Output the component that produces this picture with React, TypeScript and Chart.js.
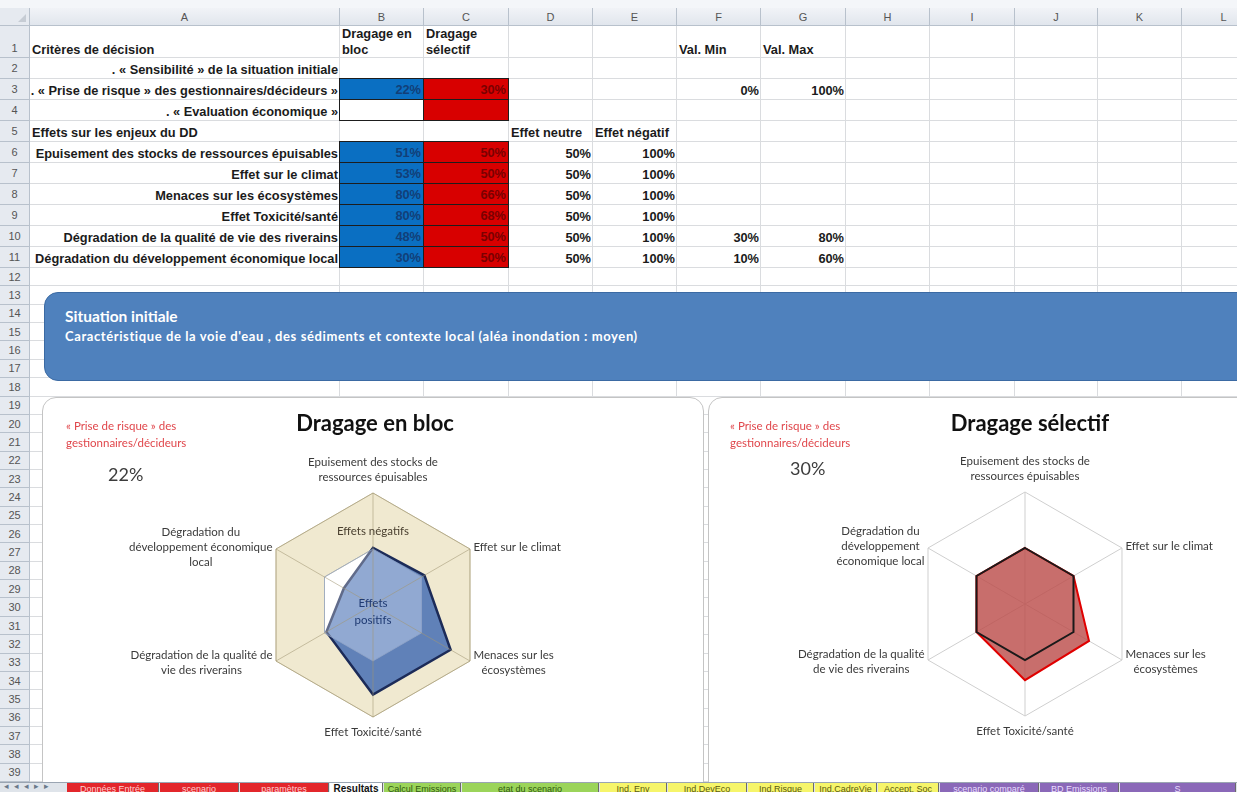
import React, { useEffect, useRef } from "react";
import { Chart, registerables } from "chart.js";

Chart.register(...registerables);

// ---------------- data ----------------
const criteria = [
  "Epuisement des stocks de ressources épuisables",
  "Effet sur le climat",
  "Menaces sur les écosystèmes",
  "Effet Toxicité/santé",
  "Dégradation de la qualité de vie des riverains",
  "Dégradation du développement économique local",
];
const labelsBloc = [
  ["Epuisement des stocks de", "ressources épuisables"],
  ["Effet sur le climat"],
  ["Menaces sur les", "écosystèmes"],
  ["Effet Toxicité/santé"],
  ["Dégradation de la qualité de", "vie des riverains"],
  ["Dégradation du", "développement économique", "local"],
];
const labelsSelectif = [
  ["Epuisement des stocks de", "ressources épuisables"],
  ["Effet sur le climat"],
  ["Menaces sur les", "écosystèmes"],
  ["Effet Toxicité/santé"],
  ["Dégradation de la qualité", "de vie des riverains"],
  ["Dégradation du", "développement", "économique local"],
];
const dragageBloc = [51, 53, 80, 80, 48, 30];
const dragageSelectif = [50, 50, 66, 68, 50, 50];
const effetNeutre = [50, 50, 50, 50, 50, 50];
const effetNegatif = [100, 100, 100, 100, 100, 100];
const valMin: (number | null)[] = [null, null, null, null, 30, 10];
const valMax: (number | null)[] = [null, null, null, null, 80, 60];
const priseRisqueBloc = 22;
const priseRisqueSelectif = 30;
const echelleMin = 0;
const echelleMax = 100;
const columnLetters = ["A", "B", "C", "D", "E", "F", "G", "H", "I", "J", "K", "L"];
const sheetTabs = [
  { name: "Données Entrée", kind: "red" },
  { name: "scenario", kind: "red" },
  { name: "paramètres", kind: "red" },
  { name: "Resultats", kind: "active" },
  { name: "Calcul Emissions", kind: "green" },
  { name: "etat du scenario", kind: "green" },
  { name: "Ind. Env", kind: "yellow" },
  { name: "Ind.DevEco", kind: "yellow" },
  { name: "Ind.Risque", kind: "yellow" },
  { name: "Ind.CadreVie", kind: "yellow" },
  { name: "Accept. Soc", kind: "yellow" },
  { name: "scenario comparé", kind: "purple" },
  { name: "BD Emissions", kind: "purple" },
  { name: "S", kind: "purple" },
];

// ---------------- layout helpers ----------------
const COLS = [30, 340, 424, 509, 593, 677, 761, 846, 930, 1015, 1098, 1182, 1266];
const HEADER_TOP = 8;
const HEADER_BOTTOM = 26;
function rowTop(r: number): number {
  if (r === 1) return HEADER_BOTTOM;
  if (r <= 11) return 58 + (r - 2) * 21;
  return 268 + (r - 12) * 18.36;
}
const pct = (v: number) => `${v}%`;

const LABEL_FONT = "11.5px Lato, 'Open Sans', sans-serif";

// point labels drawn from the radial scale positions
const pointLabelPlugin = {
  id: "xlPointLabels",
  afterDraw(chart: any) {
    const scale = chart.scales.r;
    const ctx = chart.ctx;
    const labels = chart.data.labels as string[][];
    ctx.save();
    ctx.font = LABEL_FONT;
    ctx.fillStyle = "#3a3a3a";
    ctx.textAlign = "center";
    ctx.textBaseline = "middle";
    const lh = 15;
    labels.forEach((lab, i) => {
      const lines = Array.isArray(lab) ? lab : [lab];
      const deg = Math.round((scale.getIndexAngle(i) * 180) / Math.PI) % 360;
      const vertical = deg === 0 || deg === 180;
      const p = scale.getPointPosition(i, scale.drawingArea + (vertical ? 8 : 4));
      const blockW = Math.max(...lines.map((l: string) => ctx.measureText(l).width));
      const blockH = lines.length * lh;
      let left: number;
      if (vertical) left = p.x - blockW / 2;
      else if (deg < 180) left = p.x;
      else left = p.x - blockW;
      let top: number;
      if (deg === 0) top = p.y - blockH;
      else if (deg === 180) top = p.y;
      else top = p.y - blockH / 2;
      lines.forEach((l: string, k: number) => ctx.fillText(l, left + blockW / 2, top + lh * (k + 0.5)));
    });
    ctx.restore();
  },
};

// zone captions ("Effets négatifs" / "Effets positifs")
const zoneLabelPlugin = {
  id: "xlZoneLabels",
  afterDraw(chart: any, _args: any, opts: any) {
    if (!opts || !opts.items) return;
    const scale = chart.scales.r;
    const ctx = chart.ctx;
    ctx.save();
    ctx.font = LABEL_FONT;
    ctx.textAlign = "center";
    ctx.textBaseline = "middle";
    opts.items.forEach((it: any) => {
      const p = scale.getPointPositionForValue(it.index, it.value);
      ctx.fillStyle = it.color;
      it.lines.forEach((l: string, k: number) => {
        ctx.fillText(l, p.x, p.y + (k - (it.lines.length - 1) / 2) * 17);
      });
    });
    ctx.restore();
  },
};

function baseScale(extra: any) {
  return {
    r: {
      min: echelleMin,
      max: echelleMax,
      ticks: { display: false, stepSize: echelleMax - echelleMin },
      pointLabels: { display: false },
      ...extra,
    },
  };
}

export default function App() {
  const leftRef = useRef<HTMLCanvasElement>(null);
  const rightRef = useRef<HTMLCanvasElement>(null);

  useEffect(() => {
    const c1 = new Chart(leftRef.current as HTMLCanvasElement, {
      type: "radar",
      data: {
        labels: labelsBloc as any,
        datasets: [
          {
            label: "voile neutre",
            data: effetNeutre,
            fill: true,
            backgroundColor: "rgba(255,255,255,0.3)",
            borderColor: "rgba(150,170,205,0.7)",
            borderWidth: 1,
            pointRadius: 0,
            order: 1,
          },
          {
            label: "Dragage en bloc",
            data: dragageBloc,
            fill: true,
            backgroundColor: "rgba(70,110,180,0.85)",
            borderColor: "#1c2b58",
            borderWidth: 2.5,
            pointRadius: 0,
            order: 2,
          },
          {
            label: "Effet neutre",
            data: effetNeutre,
            fill: true,
            backgroundColor: "#ffffff",
            borderColor: "#b4ab8c",
            borderWidth: 1,
            pointRadius: 0,
            order: 3,
          },
          {
            label: "Effet négatif",
            data: effetNegatif,
            fill: true,
            backgroundColor: "#f0e9d0",
            borderColor: "#d8d0b4",
            borderWidth: 1,
            pointRadius: 0,
            order: 4,
          },
        ],
      },
      options: {
        responsive: false,
        animation: false,
        layout: { padding: { left: 219, top: 96, right: 218, bottom: 65 } },
        elements: { line: { tension: 0 } },
        plugins: {
          legend: { display: false },
          tooltip: { enabled: false },
          xlZoneLabels: {
            items: [
              { index: 0, value: 66, lines: ["Effets négatifs"], color: "#4a4030" },
              { index: 3, value: 6, lines: ["Effets", "positifs"], color: "#1f3a72" },
            ],
          },
        } as any,
        scales: baseScale({
          grid: { color: "rgba(165,155,120,0.7)", z: 1 },
          angleLines: { color: "rgba(160,150,115,0.55)" },
        }) as any,
      },
      plugins: [pointLabelPlugin, zoneLabelPlugin],
    });

    const c2 = new Chart(rightRef.current as HTMLCanvasElement, {
      type: "radar",
      data: {
        labels: labelsSelectif as any,
        datasets: [
          {
            label: "Effet neutre",
            data: effetNeutre,
            fill: false,
            borderColor: "#1a1a1a",
            borderWidth: 2,
            pointRadius: 0,
            order: 1,
          },
          {
            label: "Dragage sélectif",
            data: dragageSelectif,
            fill: true,
            backgroundColor: "rgba(188,78,76,0.82)",
            borderColor: "#e00000",
            borderWidth: 2,
            pointRadius: 0,
            order: 2,
          },
        ],
      },
      options: {
        responsive: false,
        animation: false,
        layout: { padding: { left: 205, top: 95, right: 100, bottom: 66 } },
        elements: { line: { tension: 0 } },
        plugins: { legend: { display: false }, tooltip: { enabled: false } },
        scales: baseScale({
          grid: { color: "#cfcfcf" },
          angleLines: { color: "#cfcfcf" },
        }) as any,
      },
      plugins: [pointLabelPlugin],
    });

    return () => {
      c1.destroy();
      c2.destroy();
    };
  }, []);

  // ---- spreadsheet cells ----
  type Cell = {
    col: number;
    row: number;
    text?: string;
    align?: "left" | "right";
    bg?: string;
    color?: string;
    border?: boolean;
    lines?: string[];
  };
  const BLUE = "#0a6fc2";
  const RED = "#d80000";
  const cells: Cell[] = [
    { col: 0, row: 1, text: "Critères de décision", align: "left" },
    { col: 1, row: 1, lines: ["Dragage en", "bloc"], align: "left" },
    { col: 2, row: 1, lines: ["Dragage", "sélectif"], align: "left" },
    { col: 5, row: 1, text: "Val. Min", align: "left" },
    { col: 6, row: 1, text: "Val. Max", align: "left" },
    { col: 0, row: 2, text: ". « Sensibilité » de la situation initiale", align: "right" },
    { col: 0, row: 3, text: ". « Prise de risque » des gestionnaires/décideurs »", align: "right" },
    { col: 1, row: 3, text: pct(priseRisqueBloc), align: "right", bg: BLUE, color: "#123f78", border: true },
    { col: 2, row: 3, text: pct(priseRisqueSelectif), align: "right", bg: RED, color: "#7a0000", border: true },
    { col: 5, row: 3, text: pct(echelleMin), align: "right" },
    { col: 6, row: 3, text: pct(echelleMax), align: "right" },
    { col: 0, row: 4, text: ". « Evaluation économique »", align: "right" },
    { col: 1, row: 4, text: "", bg: "#ffffff", border: true },
    { col: 2, row: 4, text: "", bg: RED, border: true },
    { col: 0, row: 5, text: "Effets sur les enjeux du DD", align: "left" },
    { col: 3, row: 5, text: "Effet neutre", align: "left" },
    { col: 4, row: 5, text: "Effet négatif", align: "left" },
  ];
  criteria.forEach((c, i) => {
    const row = 6 + i;
    cells.push({ col: 0, row, text: c, align: "right" });
    cells.push({ col: 1, row, text: pct(dragageBloc[i]), align: "right", bg: BLUE, color: "#123f78", border: true });
    cells.push({ col: 2, row, text: pct(dragageSelectif[i]), align: "right", bg: RED, color: "#7a0000", border: true });
    cells.push({ col: 3, row, text: pct(effetNeutre[i]), align: "right" });
    cells.push({ col: 4, row, text: pct(effetNegatif[i]), align: "right" });
    const mn = valMin[i];
    const mx = valMax[i];
    if (mn !== null) cells.push({ col: 5, row, text: pct(mn), align: "right" });
    if (mx !== null) cells.push({ col: 6, row, text: pct(mx), align: "right" });
  });

  const cellFont = "bold 12.8px 'Liberation Sans', Arial, sans-serif";
  const headerFont = "11px 'Liberation Sans', Arial, sans-serif";
  const GRID = "#dadcdf";
  const HEAD_BG = "#e6eaf0";
  const HEAD_LINE = "#b8c1cc";

  const rows: number[] = [];
  for (let r = 1; r <= 39; r++) rows.push(r);

  const tabColors: Record<string, { bg: string; fg: string }> = {
    red: { bg: "#e3262b", fg: "#ffd0d0" },
    active: { bg: "#ffffff", fg: "#111111" },
    green: { bg: "#9bd45a", fg: "#2f5a10" },
    yellow: { bg: "#f6f56a", fg: "#5a5a10" },
    purple: { bg: "#8a68b8", fg: "#e8dcff" },
  };
  const tabX = [67, 160, 240, 330, 384, 462, 600, 668, 748, 815, 878, 940, 1040, 1120, 1237];

  return (
    <div
      style={{
        position: "fixed",
        left: 0,
        top: 0,
        width: 1237,
        height: 792,
        overflow: "hidden",
        background: "#ffffff",
        fontFamily: "'Liberation Sans', Arial, sans-serif",
      }}
    >
      {/* top strip */}
      <div style={{ position: "absolute", left: 0, top: 0, width: 1237, height: HEADER_TOP, background: "#f4f6f9", borderBottom: `1px solid ${HEAD_LINE}` }} />
      {/* column headers */}
      <div style={{ position: "absolute", left: 0, top: HEADER_TOP, width: 30, height: HEADER_BOTTOM - HEADER_TOP, background: HEAD_BG, borderRight: `1px solid ${HEAD_LINE}`, borderBottom: `1px solid ${HEAD_LINE}`, boxSizing: "border-box" }}>
        <div style={{ position: "absolute", right: 3, bottom: 3, width: 0, height: 0, borderLeft: "8px solid transparent", borderBottom: "8px solid #c6ccd4" }} />
      </div>
      {columnLetters.map((L, i) => (
        <div
          key={L}
          style={{
            position: "absolute",
            left: COLS[i],
            top: HEADER_TOP,
            width: COLS[i + 1] - COLS[i],
            height: HEADER_BOTTOM - HEADER_TOP,
            background: "linear-gradient(#f1f3f7, #e1e6ed)",
            borderRight: `1px solid ${HEAD_LINE}`,
            borderBottom: `1px solid ${HEAD_LINE}`,
            boxSizing: "border-box",
            font: headerFont,
            color: "#555",
            display: "flex",
            alignItems: "center",
            justifyContent: "center",
          }}
        >
          {L}
        </div>
      ))}
      {/* grid lines */}
      {rows.map((r) => (
        <div key={"h" + r} style={{ position: "absolute", left: 30, top: rowTop(r + 1) - 1, width: 1237, height: 1, background: GRID }} />
      ))}
      {COLS.slice(1).map((x, i) => (
        <div key={"v" + i} style={{ position: "absolute", left: x - 1, top: HEADER_BOTTOM, width: 1, height: 792, background: GRID }} />
      ))}
      {/* row headers */}
      {rows.map((r) => (
        <div
          key={"r" + r}
          style={{
            position: "absolute",
            left: 0,
            top: rowTop(r),
            width: 30,
            height: rowTop(r + 1) - rowTop(r),
            background: HEAD_BG,
            borderRight: `1px solid ${HEAD_LINE}`,
            borderBottom: `1px solid ${HEAD_LINE}`,
            boxSizing: "border-box",
            font: headerFont,
            color: "#555",
            display: "flex",
            alignItems: r === 1 ? "flex-end" : "center",
            paddingBottom: r === 1 ? 3 : 0,
            justifyContent: "center",
          }}
        >
          {r}
        </div>
      ))}
      {/* cells */}
      {cells.map((c, i) => {
        const left = COLS[c.col];
        const width = COLS[c.col + 1] - COLS[c.col];
        const top = rowTop(c.row);
        const height = rowTop(c.row + 1) - top;
        return (
          <div
            key={"c" + i}
            style={{
              position: "absolute",
              left: left - (c.border ? 1 : 0),
              top: top - (c.border ? 1 : 0),
              width: width + (c.border ? 1 : 0),
              height: height + (c.border ? 1 : 0),
              background: c.bg || "transparent",
              border: c.border ? "1px solid #1d1d1d" : undefined,
              boxSizing: "border-box",
              font: cellFont,
              color: c.color || "#1b1b1b",
              display: "flex",
              flexDirection: "column",
              justifyContent: "flex-end",
              alignItems: c.align === "right" ? "flex-end" : "flex-start",
              padding: c.row === 1 ? "0 2px 0px 2px" : "0 2px 2px 2px",
              whiteSpace: "nowrap",
              lineHeight: c.row === 1 ? "16px" : "15px",
              overflow: "visible",
            }}
          >
            {c.lines ? c.lines.map((l, k) => <div key={k}>{l}</div>) : <div>{c.text}</div>}
          </div>
        );
      })}

      {/* banner */}
      <div
        style={{
          position: "absolute",
          left: 44,
          top: 292,
          width: 1220,
          height: 89,
          borderRadius: 14,
          background: "#4f81bd",
          border: "1px solid #3b6aa3",
          boxSizing: "border-box",
          color: "#ffffff",
          fontFamily: "Lato, 'Open Sans', sans-serif",
        }}
      >
        <div style={{ position: "absolute", left: 20, top: 14, fontWeight: 700, fontSize: 15.5 }}>Situation initiale</div>
        <div style={{ position: "absolute", left: 20, top: 35, fontWeight: 700, fontSize: 13, letterSpacing: 0.6 }}>
          Caractéristique de la voie d'eau , des sédiments et contexte local (aléa inondation : moyen)
        </div>
      </div>

      {/* chart boxes */}
      <div style={{ position: "absolute", left: 42, top: 397, width: 662, height: 420, borderRadius: 14, border: "1px solid #c4c4c4", background: "#fff", boxSizing: "border-box" }} />
      <div style={{ position: "absolute", left: 708, top: 397, width: 560, height: 420, borderRadius: 14, border: "1px solid #c4c4c4", background: "#fff", boxSizing: "border-box" }} />

      <canvas ref={leftRef} width={661} height={385} style={{ position: "absolute", left: 42, top: 397, width: 661, height: 385 }} />
      <canvas ref={rightRef} width={529} height={385} style={{ position: "absolute", left: 708, top: 397, width: 529, height: 385 }} />

      {/* chart texts */}
      <div style={{ position: "absolute", left: 225, top: 409, width: 300, textAlign: "center", font: "bold 22px Lato, 'Open Sans', sans-serif", color: "#111" }}>Dragage en bloc</div>
      <div style={{ position: "absolute", left: 880, top: 409, width: 300, textAlign: "center", font: "bold 22px Lato, 'Open Sans', sans-serif", color: "#111" }}>Dragage sélectif</div>

      <div style={{ position: "absolute", left: 66, top: 417, font: "11.5px Lato, 'Open Sans', sans-serif", color: "#e0464b", lineHeight: "17px" }}>
        <div>« Prise de risque » des</div>
        <div>gestionnaires/décideurs</div>
      </div>
      <div style={{ position: "absolute", left: 108, top: 463, font: "18px Lato, 'Open Sans', sans-serif", color: "#3c3c3c" }}>{pct(priseRisqueBloc)}</div>

      <div style={{ position: "absolute", left: 730, top: 417, font: "11.5px Lato, 'Open Sans', sans-serif", color: "#e0464b", lineHeight: "17px" }}>
        <div>« Prise de risque » des</div>
        <div>gestionnaires/décideurs</div>
      </div>
      <div style={{ position: "absolute", left: 790, top: 457, font: "18px Lato, 'Open Sans', sans-serif", color: "#3c3c3c" }}>{pct(priseRisqueSelectif)}</div>

      {/* sheet tabs bar */}
      <div style={{ position: "absolute", left: 0, top: 782, width: 1237, height: 10, background: "#dfe4ea", borderTop: "1px solid #9aa5b2", boxSizing: "border-box", overflow: "hidden" }}>
        <div style={{ position: "absolute", left: 4, top: -2, font: "9px 'Liberation Sans', Arial", color: "#6a7a8a", letterSpacing: 5 }}>◂◂◂▸▸</div>
        {sheetTabs.map((t, i) => {
          const col = tabColors[t.kind];
          return (
            <div
              key={t.name}
              style={{
                position: "absolute",
                left: tabX[i],
                top: 0,
                width: tabX[i + 1] - tabX[i] - 2,
                height: 10,
                background: col.bg,
                borderRight: "1px solid #6b6b6b",
                font: t.kind === "active" ? "bold 10px 'Liberation Sans', Arial" : "9px 'Liberation Sans', Arial",
                color: col.fg,
                textAlign: "center",
                lineHeight: "12px",
                whiteSpace: "nowrap",
                overflow: "hidden",
              }}
            >
              {t.name}
            </div>
          );
        })}
      </div>
    </div>
  );
}
